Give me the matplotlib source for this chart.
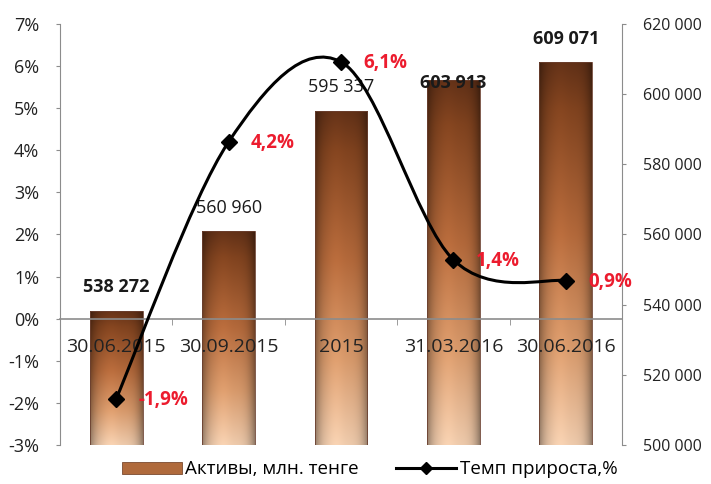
import numpy as np
import matplotlib.pyplot as plt
from matplotlib.path import Path
from matplotlib.patches import PathPatch, Patch
from matplotlib.lines import Line2D
from matplotlib.ticker import FixedLocator

plt.rcParams['font.family'] = ['Open Sans', 'DejaVu Sans']

categories = ['30.06.2015', '30.09.2015', '2015', '31.03.2016', '30.06.2016']
assets = [538272, 560960, 595337, 603913, 609071]
growth = [-1.9, 4.2, 6.1, 1.4, 0.9]
asset_labels = ['538 272', '560 960', '595 337', '603 913', '609 071']
growth_labels = ['-1,9%', '4,2%', '6,1%', '1,4%', '0,9%']
pct_ticks = [-3, -2, -1, 0, 1, 2, 3, 4, 5, 6, 7]
asset_ticks = [500000, 520000, 540000, 560000, 580000, 600000, 620000]

GRAY = '#8c8c8c'
RED = '#ec1c2e'


def bar_texture(rows=200, cols=60):
    # vertical brown gradient (dark top -> light bottom) with cylinder shading
    stops = np.array([[0.0, 0.38, 0.19, 0.09],
                      [0.12, 0.50, 0.26, 0.12],
                      [0.45, 0.70, 0.41, 0.23],
                      [0.75, 0.84, 0.60, 0.42],
                      [1.0, 0.93, 0.79, 0.67]])
    t = np.linspace(0, 1, rows)
    col = np.stack([np.interp(t, stops[:, 0], stops[:, k]) for k in (1, 2, 3)], axis=1)
    u = np.linspace(-1, 1, cols)
    shade = 1.0 - 0.38 * np.abs(u) ** 4 + 0.05 * np.exp(-((u + 0.2) / 0.3) ** 2)
    img = col[:, None, :] * shade[None, :, None]
    return np.clip(img, 0, 1)


fig = plt.figure(figsize=(7.11, 4.84), dpi=100)
ax = fig.add_axes([0.0844, 0.0806, 0.7904, 0.8698])
ax2 = ax.twinx()
ax.set_zorder(2)
ax.patch.set_visible(False)

x = np.arange(len(categories))
width = 0.47

# bars (right axis)
bars = ax2.bar(x, assets, width=width, color='none', edgecolor='#6b4030', linewidth=0.6, zorder=2)
tex = bar_texture()
for xi, v, b in zip(x, assets, bars):
    im = ax2.imshow(tex, extent=[xi - width / 2, xi + width / 2, asset_ticks[0], v],
                    aspect='auto', zorder=1, interpolation='bilinear')
    im.set_clip_path(b)

ax2.set_ylim(asset_ticks[0], asset_ticks[-1])
ax2.set_yticks(asset_ticks)
ax2.set_yticklabels([f'{v:,}'.replace(',', ' ') for v in asset_ticks])
for s in ['top', 'bottom', 'left']:
    ax2.spines[s].set_visible(False)
ax2.spines['right'].set_color(GRAY)
ax2.tick_params(axis='y', length=3, color=GRAY, labelsize=11.5, labelcolor='#222222', pad=12)

dy = [17, 17, 17, -2, 17]
for i, v in enumerate(assets):
    ax2.annotate(asset_labels[i], (x[i], v), xytext=(0, dy[i]), textcoords='offset points',
                 ha='center', va='center', fontsize=13, color='#1a1a1a',
                 fontweight='bold' if i in (0, 3, 4) else 'normal', zorder=5)

# smoothed growth line (left axis), Catmull-Rom style bezier like Excel
pts = np.column_stack([x, growth]).astype(float)
verts = [pts[0]]
codes = [Path.MOVETO]
n = len(pts)
for i in range(n - 1):
    p0 = pts[i - 1] if i > 0 else pts[i]
    p1 = pts[i]
    p2 = pts[i + 1]
    p3 = pts[i + 2] if i + 2 < n else pts[i + 1]
    verts += [p1 + (p2 - p0) / 6, p2 - (p3 - p1) / 6, p2]
    codes += [Path.CURVE4] * 3
ax.add_patch(PathPatch(Path(verts, codes), facecolor='none', edgecolor='black', lw=2.2, zorder=3))
ax.plot(x, growth, linestyle='none', marker='D', markersize=8, color='black', zorder=4)

for i, g in enumerate(growth):
    ax.annotate(growth_labels[i], (x[i], g), xytext=(16, -1), textcoords='offset points',
                ha='left', va='center', fontsize=13.5, color=RED, fontweight='bold', zorder=5)

ax.set_xlim(-0.5, len(categories) - 0.5)
ax.set_ylim(pct_ticks[0], pct_ticks[-1])
ax.set_yticks(pct_ticks)
ax.set_yticklabels([f'{v}%' for v in pct_ticks])
ax.set_xticks(x)
ax.set_xticklabels(categories)
ax.xaxis.set_minor_locator(FixedLocator(x[:-1] + 0.5))
ax.spines['bottom'].set_position(('data', 0))
ax.spines['bottom'].set_color(GRAY)
ax.spines['bottom'].set_linewidth(1.2)
ax.spines['left'].set_color(GRAY)
ax.spines['top'].set_visible(False)
ax.spines['right'].set_visible(False)
ax.tick_params(axis='x', which='major', length=0, pad=14, labelsize=14, labelcolor='#222222')
ax.tick_params(axis='x', which='minor', length=4, color=GRAY)
ax.tick_params(axis='y', length=3, color=GRAY, labelsize=13, labelcolor='#222222', pad=12)

handles = [Patch(facecolor='#b06a3c', edgecolor='#7a4a30', linewidth=0.6),
           Line2D([0], [0], color='black', lw=2.2, marker='D', markersize=6)]
fig.legend(handles, ['Активы, млн. тенге', 'Темп прироста,%'], loc='center',
           bbox_to_anchor=(0.52, 0.03), ncol=2, frameon=False, fontsize=13.5,
           handlelength=3.2, handleheight=0.6, columnspacing=2.0, handletextpad=0.2)

fig.savefig('out.png', dpi=100)
